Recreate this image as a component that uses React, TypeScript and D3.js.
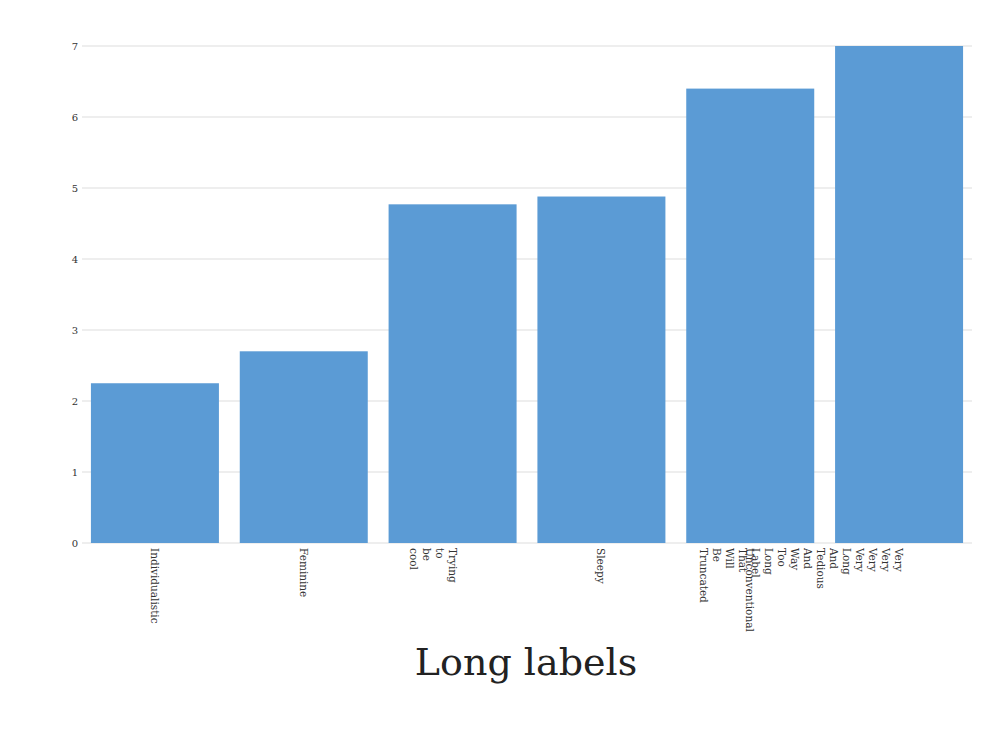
import * as d3 from 'd3';

const categories = [
  'Individualistic',
  'Feminine',
  'Trying to be cool',
  'Sleepy',
  'Unconventional',
  'Very Very Very Very Long And Tedious And Way Too Long Label That Will Be Truncated',
];
const values = [2.25, 2.7, 4.77, 4.88, 6.4, 7.0];
const yTicks = [0, 1, 2, 3, 4, 5, 6, 7];

export default function App() {
  const width = 992;
  const height = 744;
  const left = 82;
  const right = 972;
  const top = 46;
  const bottom = 543;

  const x = d3
    .scaleBand<string>()
    .domain(categories)
    .range([left, right])
    .paddingInner(0.14)
    .paddingOuter(0.06);
  const y = d3.scaleLinear().domain([0, 7]).range([bottom, top]);

  return (
    <svg
      width={width}
      height={height}
      style={{ position: 'absolute', left: 0, top: 0, fontFamily: 'DejaVu Serif, serif' }}
    >
      {yTicks.map((t) => (
        <g key={t}>
          <line x1={left} x2={right} y1={y(t)} y2={y(t)} stroke="#dddddd" strokeWidth={1} />
          <text x={78} y={y(t)} dy="0.35em" textAnchor="end" fontSize={10} fill="#333">
            {t}
          </text>
        </g>
      ))}
      {categories.map((c, i) => (
        <rect
          key={c}
          x={x(c)}
          y={y(values[i])}
          width={x.bandwidth()}
          height={bottom - y(values[i])}
          fill="#5b9bd5"
        />
      ))}
      {categories.map((c) => {
        const cx = (x(c) ?? 0) + x.bandwidth() / 2;
        return (
          <text
            key={c}
            transform={`translate(${cx},${bottom + 5}) rotate(90)`}
            fontSize={10.5}
            fill="#333"
            textAnchor="start"
          >
            {c.split(' ').map((w, j) => (
              <tspan key={j} x={0} y={4 + j * 13}>
                {w}
              </tspan>
            ))}
          </text>
        );
      })}
      <text x={526} y={662} dy="0.35em" textAnchor="middle" fontSize={38} fill="#222">
        Long labels
      </text>
    </svg>
  );
}
